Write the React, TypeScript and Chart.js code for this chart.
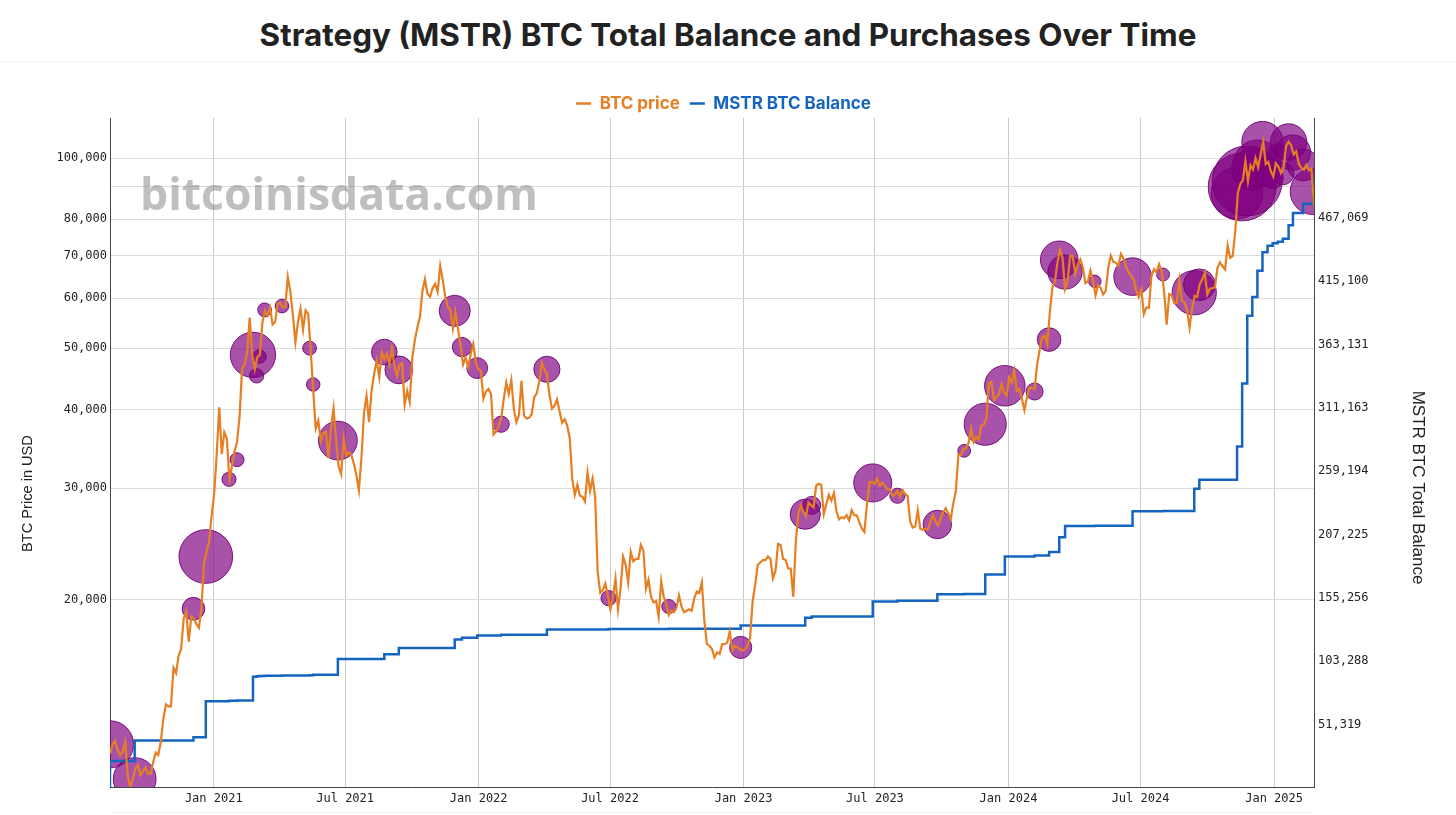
import { useEffect, useRef } from 'react';
import { Chart, registerables } from 'chart.js';

Chart.register(...registerables);

const DAY = 86400000;

// BTC price, sampled twice a week (Tue / Fri) starting 2020-08-11
const priceStart = Date.UTC(2020, 7, 11);
const priceStepDays = 3.5;
const btcPrice = [
  // 2020
  11400, 11800, 11950, 11550, 11350, 11500,
  11900, 10500, 10100, 10400, 10800, 10950, 10550, 10700, 10850,
  10600, 10600, 11050, 11450, 11350, 11900, 12950, 13650, 13550,
  13550, 15600, 15300, 16300, 16700, 18650, 19150, 17150,
  18800, 18650, 18300, 18050, 19400, 22800, 23800, 24700, 27100,
  // 2021
  29400, 33900, 40300, 34000, 36800, 36000, 31000, 32500, 34300,
  35500, 38900, 46400, 47200, 49200, 55900, 48800, 46300,
  48400, 48800, 54900, 57300, 56300, 58000, 54500, 55000, 58800,
  59000, 58000, 58100, 64800, 61500, 56400, 51100, 55000, 57800,
  53500, 57400, 56700, 49700, 42900, 37300, 38400, 35600,
  36700, 36900, 33500, 37300, 40200, 35800, 32500, 31600, 36000,
  33800, 34200, 33900, 32800, 31500, 29800, 33600, 39500, 42000,
  38200, 42900, 45600, 47800, 45000, 49300, 48000, 49000, 47100,
  50000, 46800, 45200, 47100, 47300, 40700, 42800, 41100,
  48200, 51500, 53900, 56000, 61600, 64300, 61000, 60300, 62200,
  63200, 61400, 67500, 64100, 60300, 58100, 57500, 53700, 57000,
  53600, 50600, 47100, 48300, 46700, 48900, 50800, 47600, 46300,
  // 2022
  46000, 41600, 42700, 43100, 42300, 36500, 36900, 37700,
  38700, 41500, 44100, 42300, 44500, 40000, 38200, 39200,
  44400, 39100, 38700, 38800, 39300, 41800, 42400, 44300, 47400,
  46300, 45500, 42200, 40100, 40500, 41500, 39700, 38100, 38600,
  37700, 36000, 31000, 29300, 30400, 29200, 29100, 28600, 31800,
  29700, 31100, 29100, 22100, 20500, 20700, 21200, 20300,
  19300, 20200, 21600, 19300, 20800, 23400, 22700, 21300, 23800,
  23000, 23200, 23200, 24400, 23900, 20800, 21500, 20200, 19800,
  19900, 18800, 21400, 20200, 19700, 18900, 19200, 19100, 19400,
  20300, 19500, 19100, 19200, 19300, 19200, 20100, 20600,
  20500, 21300, 18500, 17000, 16900, 16700, 16200, 16500, 16400,
  17000, 17000, 17100, 17800, 16600, 16900, 16800, 16700, 16600,
  // 2023
  16700, 16900, 17400, 19900, 21100, 22700, 22900, 23100, 23100,
  23400, 23200, 21600, 22200, 24500, 24400, 23200, 23100,
  22400, 22400, 20200, 24700, 27400, 28200, 27500, 27100, 28500,
  28200, 28000, 30300, 30500, 30400, 27300, 28300, 29300,
  28700, 29500, 27600, 26800, 27000, 26900, 27200, 26700, 27700,
  27200, 27200, 26500, 25900, 25600, 28300, 30700, 30700, 30500,
  31100, 30300, 30600, 30300, 29900, 29900, 29200, 29300,
  29700, 29100, 29800, 29400, 29200, 26600, 26000, 26100, 27700,
  25900, 25800, 25900, 25800, 26600, 27200, 26600, 26200, 26900,
  27500, 27900, 27400, 26800, 28400, 29700, 33900, 33900, 34600,
  34700, 35400, 37300, 35500, 36200, 35800, 37700, 37800,
  38700, 44000, 44200, 41400, 41900, 42300, 43900, 42500, 42100,
  // 2024
  45000, 44100, 46100, 42800, 43100, 41600, 39900, 41800, 43300,
  43200, 43100, 47100, 49700, 52100, 52300, 50700, 57000,
  62400, 63800, 68300, 71500, 69500, 62000, 63800, 70000, 69900,
  65500, 67800, 69100, 67100, 63400, 63800, 66400, 64000, 60600,
  62900, 62300, 60800, 61600, 67000, 70100, 68500, 68300, 67500,
  70500, 69300, 67300, 66000, 65100, 64100, 61800, 60300,
  62100, 56600, 58000, 57900, 65100, 66700, 65900, 67900, 66200,
  61400, 54500, 60900, 60600, 58900, 59000, 64100, 59400, 59100,
  57500, 53900, 57700, 60500, 60300, 63100, 64200, 65800,
  60800, 62100, 62200, 62400, 67000, 68400, 67400, 66600, 72700,
  69500, 70000, 76500, 88000, 91000, 92300, 98900, 91900, 97400,
  95900, 99900, 96600, 101400, 106100, 97800, 98600, 95300, 93400,
  // 2025
  98100, 96900, 94600, 96500, 104400, 106100, 104800, 101300, 102400,
  98000, 96500, 95800, 97500, 95600, 96200, 84000,
];

// Strategy purchases
const purchaseDates = [
  '2020-08-11', '2020-09-14', '2020-12-04', '2020-12-21',
  '2021-01-22', '2021-02-02', '2021-02-24', '2021-03-01', '2021-03-05', '2021-03-12', '2021-04-05',
  '2021-05-13', '2021-05-18', '2021-06-21', '2021-08-24', '2021-09-13', '2021-11-29', '2021-12-09', '2021-12-30',
  '2022-02-01', '2022-04-05', '2022-06-29', '2022-09-20', '2022-12-28',
  '2023-03-27', '2023-04-05', '2023-06-28', '2023-08-01', '2023-09-25', '2023-11-01', '2023-11-30', '2023-12-27',
  '2024-02-06', '2024-02-26', '2024-03-11', '2024-03-19', '2024-04-29', '2024-06-20', '2024-08-01', '2024-09-13',
  '2024-09-20', '2024-11-11', '2024-11-18', '2024-11-25', '2024-12-02', '2024-12-09', '2024-12-16', '2024-12-23',
  '2024-12-30', '2025-01-06', '2025-01-13', '2025-01-21', '2025-01-27', '2025-02-10', '2025-02-24',
];
const purchaseBtc = [
  21454, 16796, 2574, 29646,
  314, 295, 19452, 328, 205, 262, 253,
  271, 229, 13005, 3907, 5050, 7002, 1434, 1914,
  660, 4167, 480, 301, 2395,
  6455, 1045, 12333, 467, 5445, 155, 16130, 14620,
  850, 3000, 12000, 9245, 122, 11931, 169, 18300,
  7420, 27200, 51780, 55500, 15400, 21550, 15350, 5262,
  2138, 1070, 2530, 11000, 10107, 7633, 20356,
];
const purchasePrice = [
  11800, 10400, 19350, 23400,
  31000, 33300, 48800, 45200, 48500, 57500, 58300,
  50000, 43800, 35700, 49300, 46200, 57300, 50200, 46500,
  37900, 46300, 20100, 19500, 16800,
  27300, 28200, 30600, 29200, 26300, 34400, 37900, 43600,
  42700, 51600, 69000, 66000, 63800, 64900, 65400, 61200,
  63000, 88000, 90000, 92000, 96000, 98000, 106000, 95000,
  93000, 102000, 94500, 106000, 102000, 97500, 88500,
];
// balance before the first purchase, then after each purchase
const balanceStart = 0;
const btcBalance = [
  21454, 38250, 40824, 70470,
  70784, 71079, 90531, 90859, 91064, 91326, 91579,
  91850, 92079, 105085, 108992, 114042, 121044, 122478, 124391,
  125051, 129218, 129699, 130000, 132500,
  138955, 140000, 152333, 152800, 158245, 158400, 174530, 189150,
  190000, 193000, 205000, 214246, 214400, 226331, 226500, 244800,
  252220, 279420, 331200, 386700, 402100, 423650, 439000, 444262,
  446400, 447470, 450000, 461000, 471107, 478740, 499096,
];

const xTickDates = [
  '2021-01-01', '2021-07-01', '2022-01-01', '2022-07-01', '2023-01-01',
  '2023-07-01', '2024-01-01', '2024-07-01', '2025-01-01',
];
const xTickLabels = [
  'Jan 2021', 'Jul 2021', 'Jan 2022', 'Jul 2022', 'Jan 2023',
  'Jul 2023', 'Jan 2024', 'Jul 2024', 'Jan 2025',
];
const priceTicks = [20000, 30000, 40000, 50000, 60000, 70000, 80000, 90000, 100000];
const balanceTicks = [51319, 103288, 155256, 207225, 259194, 311163, 363131, 415100, 467069];

const ORANGE = '#e67e22';
const BLUE = '#1565c0';
const TICK_FONT = { family: '"DejaVu Sans Mono", monospace', size: 12 };
const fmt = (v: number) => Math.round(v).toLocaleString('en-US');
const bubbleRadius = (btc: number) => 4.8 + 0.128 * Math.sqrt(btc);

const watermark = {
  id: 'watermark',
  beforeDatasetsDraw(chart: Chart) {
    const { ctx, chartArea } = chart;
    ctx.save();
    ctx.font = 'bold 44.5px "Open Sans", sans-serif';
    ctx.fillStyle = 'rgba(128,128,128,0.5)';
    ctx.textBaseline = 'alphabetic';
    ctx.fillText('bitcoinisdata.com', chartArea.left + 30, chartArea.top + 92);
    ctx.restore();
  },
};

// nudges the legend down a little without moving the plot area
const legendNudge = {
  id: 'legendNudge',
  afterLayout(chart: Chart) {
    const legend = chart.legend as any;
    if (legend) {
      legend.top += 4;
      legend.bottom += 4;
    }
  },
};

const axisTitles = {
  id: 'axisTitles',
  afterDraw(chart: Chart) {
    const { ctx, chartArea } = chart;
    const mid = (chartArea.top + chartArea.bottom) / 2;
    ctx.save();
    ctx.fillStyle = '#222';
    ctx.textAlign = 'center';
    ctx.textBaseline = 'middle';
    ctx.font = '14.6px "Liberation Sans", Arial, sans-serif';
    ctx.translate(chartArea.left - 82, mid + 41);
    ctx.rotate(-Math.PI / 2);
    ctx.fillText('BTC Price in USD', 0, 0);
    ctx.restore();
    ctx.save();
    ctx.fillStyle = '#222';
    ctx.textAlign = 'center';
    ctx.textBaseline = 'middle';
    ctx.font = '17px "Liberation Sans", Arial, sans-serif';
    ctx.translate(chartArea.right + 104, mid + 35);
    ctx.rotate(Math.PI / 2);
    ctx.fillText('MSTR BTC Total Balance', 0, 0);
    ctx.restore();
  },
};

export default function App() {
  const chartRef = useRef<HTMLCanvasElement>(null);
  const chartInstance = useRef<Chart | null>(null);

  useEffect(() => {
    if (!chartRef.current) return;
    const ctx = chartRef.current.getContext('2d');
    if (!ctx) return;

    const xMin = priceStart;
    const xMax = priceStart + (btcPrice.length - 1) * priceStepDays * DAY;
    const xTicks = xTickDates.map(d => Date.parse(d));

    const priceData = btcPrice.map((y, i) => ({ x: priceStart + i * priceStepDays * DAY, y }));
    const balanceData = [{ x: xMin, y: balanceStart }];
    purchaseDates.forEach((d, i) => balanceData.push({ x: Date.parse(d), y: btcBalance[i] }));
    balanceData.push({ x: xMax, y: btcBalance[btcBalance.length - 1] });
    const bubbleData = purchaseDates.map((d, i) => ({
      x: Date.parse(d),
      y: purchasePrice[i],
      r: bubbleRadius(purchaseBtc[i]),
    }));

    chartInstance.current = new Chart(ctx, {
      type: 'line',
      data: {
        datasets: [
          {
            type: 'line',
            label: 'BTC price',
            data: priceData,
            borderColor: ORANGE,
            backgroundColor: ORANGE,
            borderWidth: 2.2,
            pointRadius: 0,
            yAxisID: 'y',
            order: 0,
          },
          {
            type: 'line',
            label: 'MSTR BTC Balance',
            data: balanceData,
            borderColor: BLUE,
            backgroundColor: BLUE,
            borderWidth: 2.5,
            pointRadius: 0,
            stepped: 'before',
            yAxisID: 'y1',
            order: 1,
          },
          {
            type: 'bubble',
            label: 'Purchases',
            data: bubbleData,
            backgroundColor: 'rgba(128,0,128,0.68)',
            borderColor: 'rgba(110,0,115,0.9)',
            borderWidth: 1,
            yAxisID: 'y',
            order: 2,
          },
        ] as any,
      },
      options: {
        animation: false,
        responsive: true,
        maintainAspectRatio: false,
        layout: { padding: { top: 19, left: 15, right: 24, bottom: 0 } },
        plugins: {
          legend: {
            display: true,
            position: 'top',
            labels: {
              usePointStyle: true,
              pointStyle: 'line',
              pointStyleWidth: 15,
              padding: 10,
              font: { family: 'Inter, sans-serif', size: 17, weight: 'bold' },
              generateLabels: (chart: Chart) =>
                Chart.defaults.plugins.legend.labels
                  .generateLabels(chart)
                  .filter(item => item.datasetIndex !== 2)
                  .map(item => ({ ...item, fontColor: item.strokeStyle as string, lineWidth: 2.5 })),
            },
          },
          tooltip: { enabled: false },
        },
        scales: {
          x: {
            type: 'linear',
            min: xMin,
            max: xMax,
            bounds: 'data',
            afterBuildTicks: scale => {
              scale.ticks = xTicks.map(value => ({ value }));
            },
            afterFit: scale => {
              scale.height = 25;
            },
            ticks: {
              callback: value => xTickLabels[xTicks.indexOf(value as number)] ?? '',
              font: TICK_FONT,
              color: '#222',
              padding: 5,
              maxRotation: 0,
              autoSkip: false,
            },
            grid: { color: '#cacaca', drawTicks: false },
            border: { color: '#444', width: 1 },
          },
          y: {
            type: 'logarithmic',
            position: 'left',
            min: 10100,
            max: 115700,
            bounds: 'data',
            afterBuildTicks: scale => {
              scale.ticks = priceTicks.map(value => ({ value }));
            },
            afterFit: scale => {
              scale.width = 95;
            },
            ticks: {
              callback: value => (value === 90000 ? '' : fmt(value as number)),
              font: TICK_FONT,
              color: '#222',
              padding: 3,
              autoSkip: false,
            },
            grid: { color: '#dcdcdc', drawTicks: false },
            border: { color: '#444', width: 1 },
          },
          y1: {
            type: 'linear',
            position: 'right',
            min: 0,
            max: 549100,
            bounds: 'data',
            afterBuildTicks: scale => {
              scale.ticks = balanceTicks.map(value => ({ value }));
            },
            afterFit: scale => {
              scale.width = 118;
            },
            ticks: {
              callback: value => fmt(value as number),
              font: TICK_FONT,
              color: '#222',
              padding: 4,
              autoSkip: false,
            },
            grid: { display: false, drawTicks: false },
            border: { color: '#444', width: 1 },
          },
        },
      },
      plugins: [watermark, axisTitles, legendNudge],
    });

    return () => {
      if (chartInstance.current) {
        chartInstance.current.destroy();
        chartInstance.current = null;
      }
    };
  }, []);

  return (
    <div style={{ position: 'fixed', left: 0, top: 0, width: 1456, height: 815, background: '#fff', overflow: 'hidden' }}>
      <div
        style={{
          position: 'absolute',
          top: 14,
          left: 0,
          width: 1456,
          textAlign: 'center',
          fontFamily: 'Inter, sans-serif',
          fontWeight: 700,
          fontSize: 31.4,
          lineHeight: '42px',
          color: '#222',
        }}
      >
        Strategy (MSTR) BTC Total Balance and Purchases Over Time
      </div>
      <div style={{ position: 'absolute', top: 61, left: 0, width: 1456, height: 1, background: '#f2f2f2' }} />
      <div style={{ position: 'absolute', top: 62, left: 0, width: 1456, height: 761 }}>
        <canvas ref={chartRef}></canvas>
      </div>
      <div style={{ position: 'absolute', top: 812, left: 110, width: 1204, height: 1, background: '#f0f0f0' }} />
    </div>
  );
}
